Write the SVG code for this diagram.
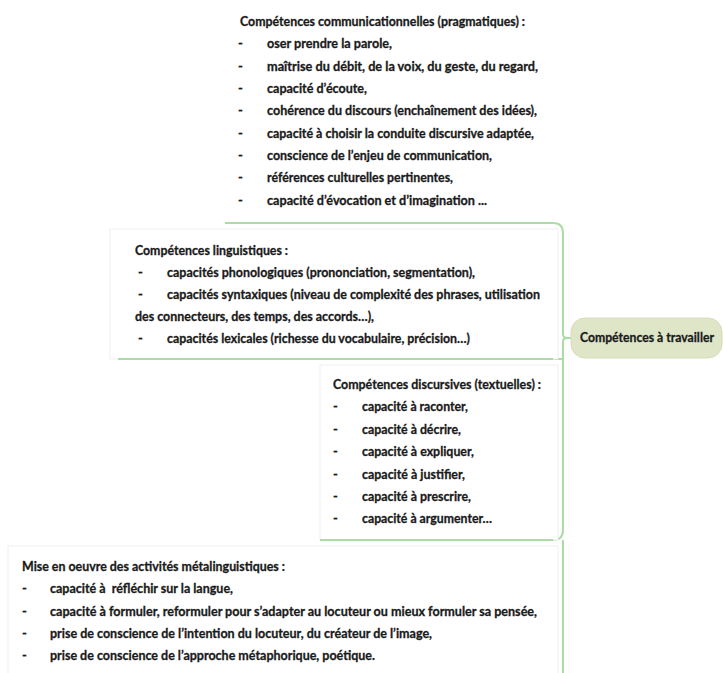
<svg xmlns="http://www.w3.org/2000/svg" width="723" height="673" viewBox="0 0 723 673">
<defs>
<style>
.t{font-family:Lato,"Liberation Sans",sans-serif;font-size:13px;font-weight:bold;fill:#1a1a1a;stroke:#1a1a1a;stroke-width:0.3px}
.box{fill:#ffffff;stroke:#eef0ee;stroke-width:1}
.ul{fill:none;stroke:#abdca6;stroke-width:2}
.conn{fill:none;stroke:#abdca6;stroke-width:2}
.central{fill:#dfe6c8;stroke:#d5ddbb;stroke-width:1}
</style>
</defs>
<rect width="723" height="673" fill="#ffffff"/>

<g id="connectors">
<path class="conn" d="M571,338 H567 Q563,338 563,334 V233 Q563,223 553,223"/>
<path class="conn" d="M571,338 H567 Q563,338 563,342 V359 H553"/>
<path class="conn" d="M563,359 V530 Q563,540 553,540"/>
<path class="conn" d="M563,540 V673"/>
</g>

<g id="node-communicationnelles">
<path class="ul" d="M225,223 H553"/>
<text class="t" x="240" y="26" textLength="285" lengthAdjust="spacingAndGlyphs">Compétences communicationnelles (pragmatiques) :</text>
<text class="t" x="238" y="48">-</text>
<text class="t" x="267" y="48" textLength="125" lengthAdjust="spacingAndGlyphs">oser prendre la parole,</text>
<text class="t" x="238" y="71">-</text>
<text class="t" x="267" y="71" textLength="271" lengthAdjust="spacingAndGlyphs">maîtrise du débit, de la voix, du geste, du regard,</text>
<text class="t" x="238" y="93">-</text>
<text class="t" x="267" y="93" textLength="100" lengthAdjust="spacingAndGlyphs">capacité d’écoute,</text>
<text class="t" x="238" y="115">-</text>
<text class="t" x="267" y="115" textLength="270" lengthAdjust="spacingAndGlyphs">cohérence du discours (enchaînement des idées),</text>
<text class="t" x="238" y="138">-</text>
<text class="t" x="267" y="138" textLength="267" lengthAdjust="spacingAndGlyphs">capacité à choisir la conduite discursive adaptée,</text>
<text class="t" x="238" y="160">-</text>
<text class="t" x="267" y="160" textLength="225" lengthAdjust="spacingAndGlyphs">conscience de l’enjeu de communication,</text>
<text class="t" x="238" y="182">-</text>
<text class="t" x="267" y="182" textLength="186" lengthAdjust="spacingAndGlyphs">références culturelles pertinentes,</text>
<text class="t" x="238" y="205">-</text>
<text class="t" x="267" y="205" textLength="220" lengthAdjust="spacingAndGlyphs">capacité d’évocation et d’imagination ...</text>
</g>

<g id="node-linguistiques">
<rect class="box" x="110" y="229" width="448" height="130"/>
<path class="ul" d="M118,359 H553"/>
<text class="t" x="135" y="255" textLength="153" lengthAdjust="spacingAndGlyphs">Compétences linguistiques :</text>
<text class="t" x="138" y="277">-</text>
<text class="t" x="167" y="277" textLength="308" lengthAdjust="spacingAndGlyphs">capacités phonologiques (prononciation, segmentation),</text>
<text class="t" x="138" y="299">-</text>
<text class="t" x="167" y="299" textLength="373" lengthAdjust="spacingAndGlyphs">capacités syntaxiques (niveau de complexité des phrases, utilisation</text>
<text class="t" x="135" y="321" textLength="239" lengthAdjust="spacingAndGlyphs">des connecteurs, des temps, des accords…),</text>
<text class="t" x="138" y="343">-</text>
<text class="t" x="167" y="343" textLength="303" lengthAdjust="spacingAndGlyphs">capacités lexicales (richesse du vocabulaire, précision…)</text>
</g>

<g id="node-discursives">
<rect class="box" x="320" y="365" width="238" height="175"/>
<path class="ul" d="M320,540 H553"/>
<text class="t" x="333" y="389" textLength="208" lengthAdjust="spacingAndGlyphs">Compétences discursives (textuelles) :</text>
<text class="t" x="333" y="411">-</text>
<text class="t" x="362" y="411" textLength="106" lengthAdjust="spacingAndGlyphs">capacité à raconter,</text>
<text class="t" x="333" y="434">-</text>
<text class="t" x="362" y="434" textLength="99" lengthAdjust="spacingAndGlyphs">capacité à décrire,</text>
<text class="t" x="333" y="456">-</text>
<text class="t" x="362" y="456" textLength="112" lengthAdjust="spacingAndGlyphs">capacité à expliquer,</text>
<text class="t" x="333" y="479">-</text>
<text class="t" x="362" y="479" textLength="103" lengthAdjust="spacingAndGlyphs">capacité à justifier,</text>
<text class="t" x="333" y="501">-</text>
<text class="t" x="362" y="501" textLength="109" lengthAdjust="spacingAndGlyphs">capacité à prescrire,</text>
<text class="t" x="333" y="523">-</text>
<text class="t" x="362" y="523" textLength="130" lengthAdjust="spacingAndGlyphs">capacité à argumenter…</text>
</g>

<g id="node-metalinguistiques">
<rect class="box" x="8" y="546" width="550" height="135"/>
<text class="t" x="22" y="571" textLength="263" lengthAdjust="spacingAndGlyphs">Mise en oeuvre des activités métalinguistiques :</text>
<text class="t" x="22" y="593">-</text>
<text class="t" x="50" y="593" textLength="183" lengthAdjust="spacingAndGlyphs" xml:space="preserve">capacité à  réfléchir sur la langue,</text>
<text class="t" x="22" y="616">-</text>
<text class="t" x="50" y="616" textLength="487" lengthAdjust="spacingAndGlyphs">capacité à formuler, reformuler pour s’adapter au locuteur ou mieux formuler sa pensée,</text>
<text class="t" x="22" y="638">-</text>
<text class="t" x="50" y="638" textLength="382" lengthAdjust="spacingAndGlyphs">prise de conscience de l’intention du locuteur, du créateur de l’image,</text>
<text class="t" x="22" y="660">-</text>
<text class="t" x="50" y="660" textLength="325" lengthAdjust="spacingAndGlyphs">prise de conscience de l’approche métaphorique, poétique.</text>
</g>

<g id="node-central">
<rect class="central" x="571" y="318" width="151" height="40" rx="14" ry="14"/>
<text class="t" x="580" y="342" textLength="134" lengthAdjust="spacingAndGlyphs">Compétences à travailler</text>
</g>
</svg>
